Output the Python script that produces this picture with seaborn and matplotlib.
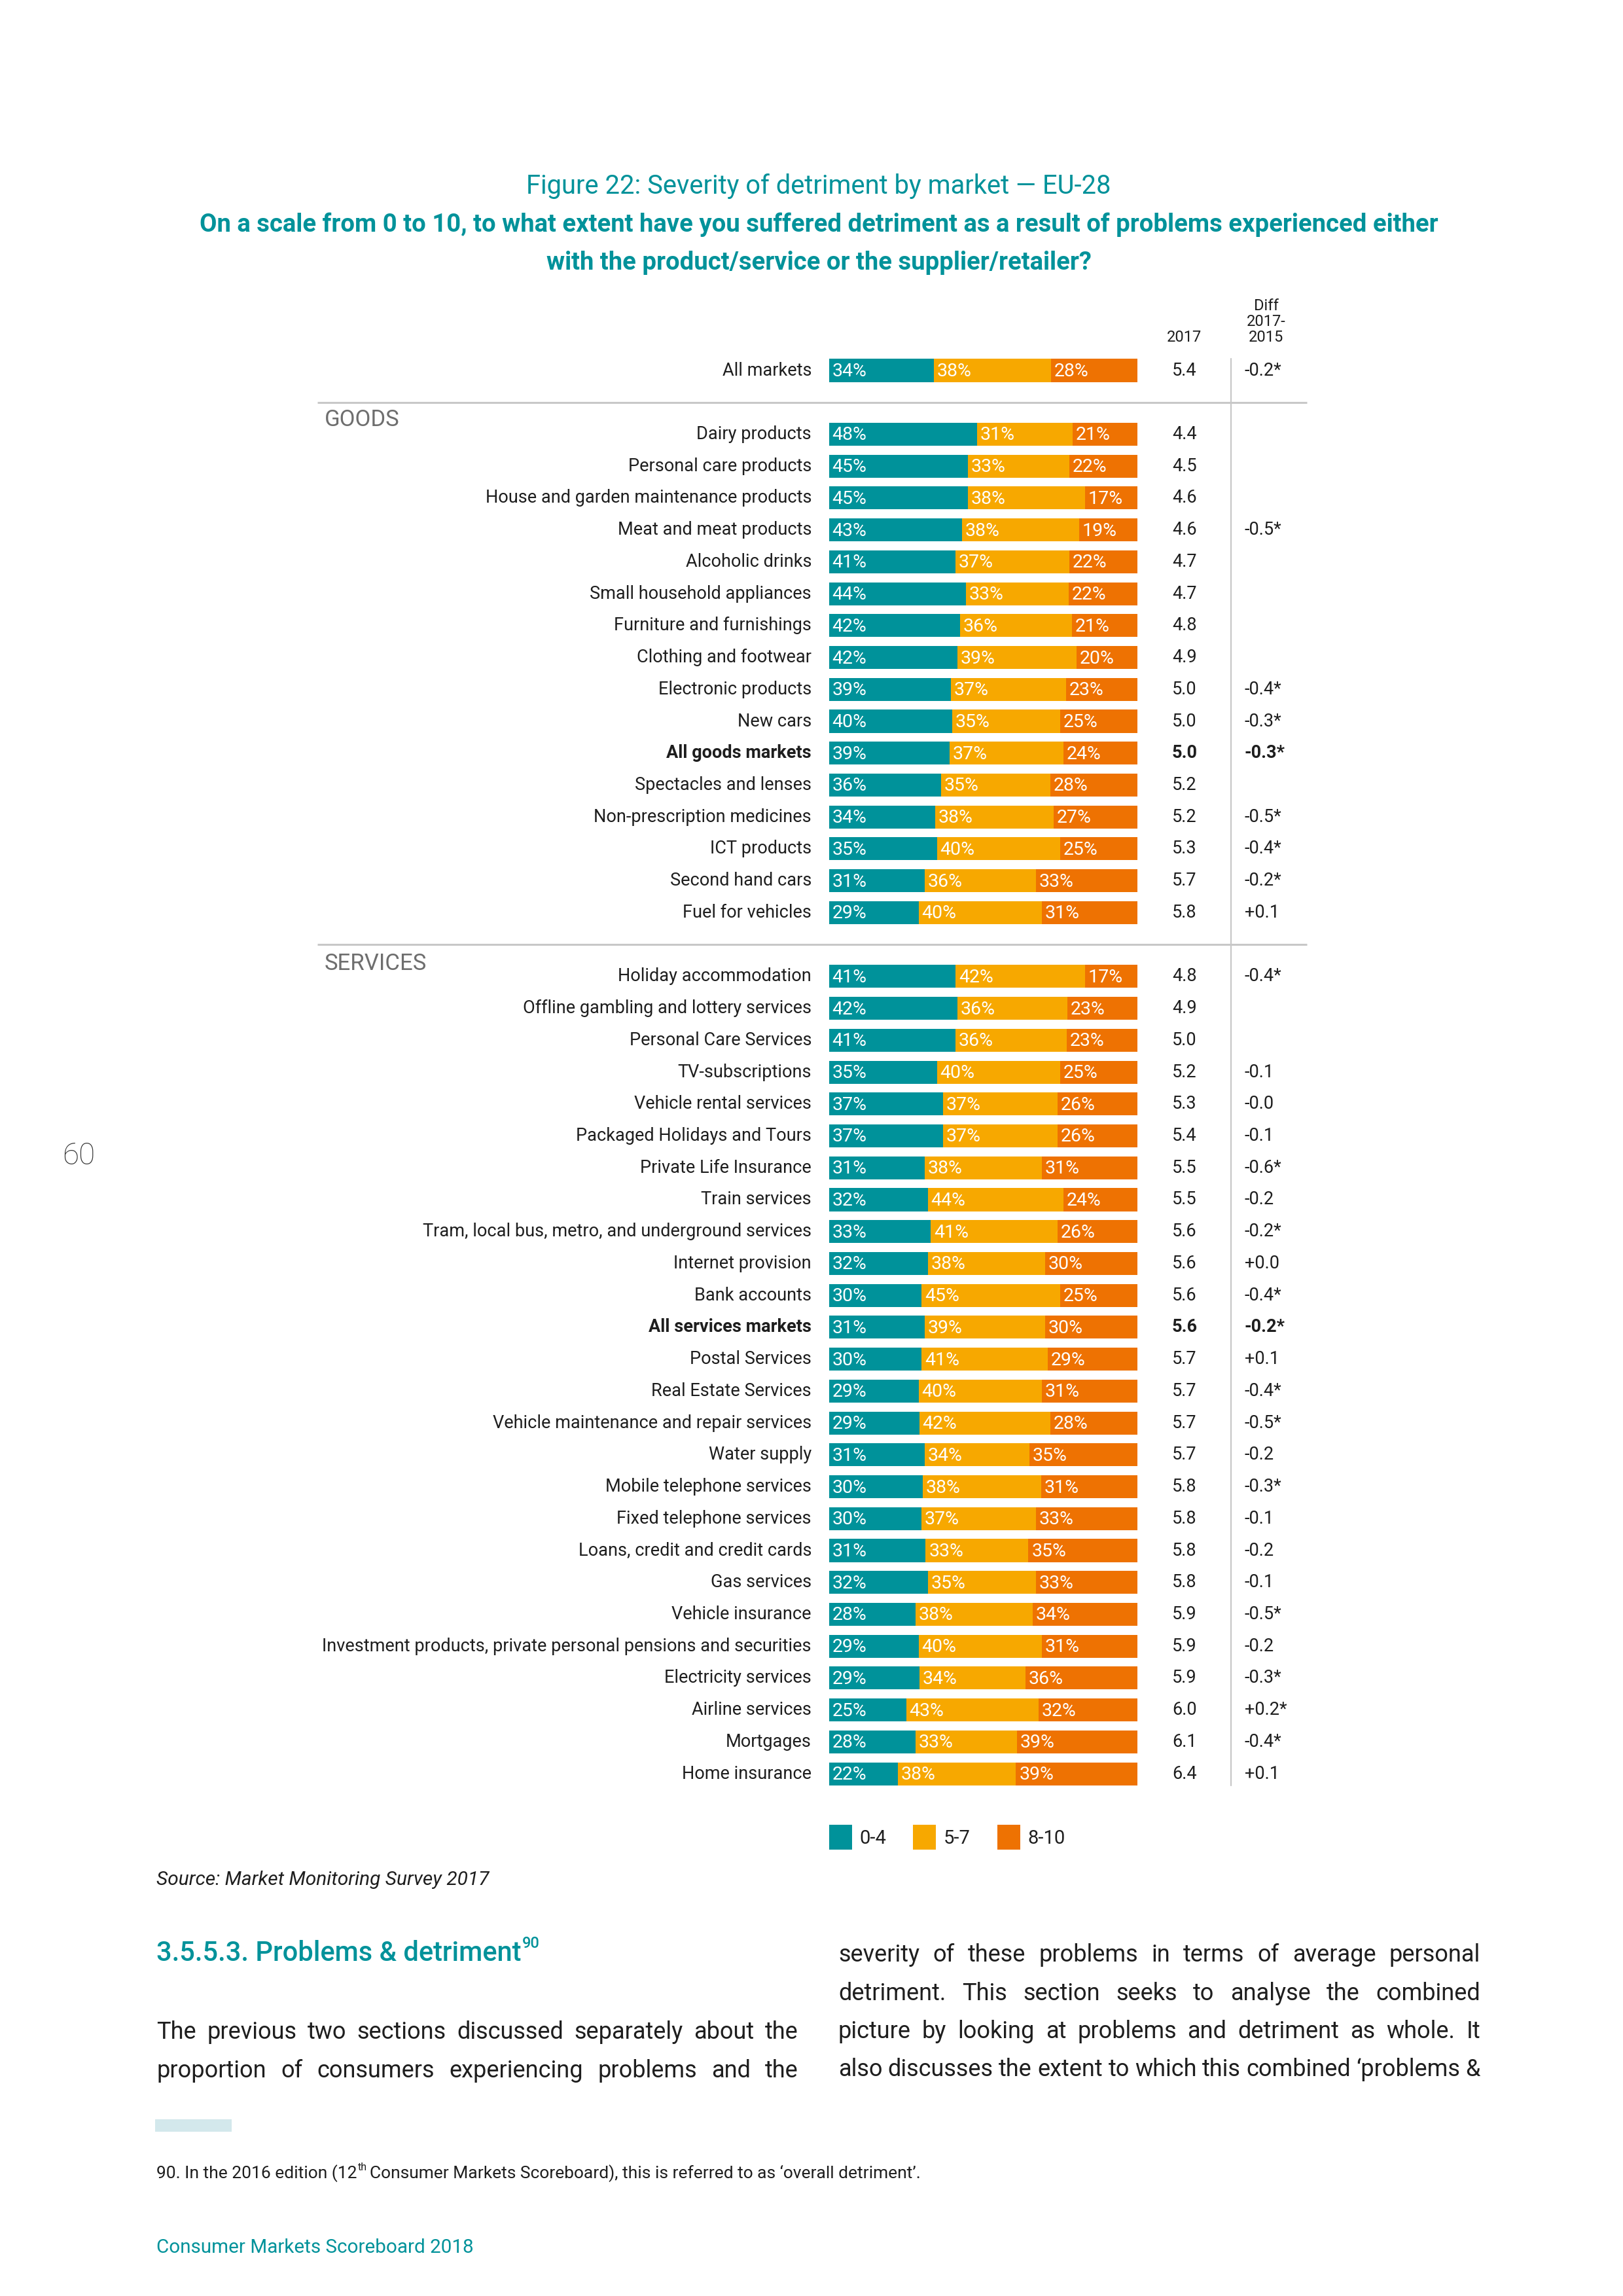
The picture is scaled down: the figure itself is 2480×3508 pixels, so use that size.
import matplotlib
matplotlib.use("Agg")
import matplotlib.pyplot as plt
from matplotlib.patches import Patch, Rectangle
import seaborn as sns
import pandas as pd

# ---------------- data ----------------
overall_market = ["All markets"]
overall_low = [34]
overall_mid = [38]
overall_high = [28]
overall_score = ["5.4"]
overall_diff = ["-0.2*"]

goods_markets = ["Dairy products", "Personal care products", "House and garden maintenance products",
                 "Meat and meat products", "Alcoholic drinks", "Small household appliances",
                 "Furniture and furnishings", "Clothing and footwear", "Electronic products", "New cars",
                 "All goods markets", "Spectacles and lenses", "Non-prescription medicines", "ICT products",
                 "Second hand cars", "Fuel for vehicles"]
goods_low = [48, 45, 45, 43, 41, 44, 42, 42, 39, 40, 39, 36, 34, 35, 31, 29]
goods_mid = [31, 33, 38, 38, 37, 33, 36, 39, 37, 35, 37, 35, 38, 40, 36, 40]
goods_high = [21, 22, 17, 19, 22, 22, 21, 20, 23, 25, 24, 28, 27, 25, 33, 31]
goods_score = ["4.4", "4.5", "4.6", "4.6", "4.7", "4.7", "4.8", "4.9", "5.0", "5.0", "5.0", "5.2", "5.2",
               "5.3", "5.7", "5.8"]
goods_diff = ["", "", "", "-0.5*", "", "", "", "", "-0.4*", "-0.3*", "-0.3*", "", "-0.5*", "-0.4*",
              "-0.2*", "+0.1"]

services_markets = ["Holiday accommodation", "Offline gambling and lottery services", "Personal Care Services",
                    "TV-subscriptions", "Vehicle rental services", "Packaged Holidays and Tours",
                    "Private Life Insurance", "Train services",
                    "Tram, local bus, metro, and underground services", "Internet provision", "Bank accounts",
                    "All services markets", "Postal Services", "Real Estate Services",
                    "Vehicle maintenance and repair services", "Water supply", "Mobile telephone services",
                    "Fixed telephone services", "Loans, credit and credit cards", "Gas services",
                    "Vehicle insurance", "Investment products, private personal pensions and securities",
                    "Electricity services", "Airline services", "Mortgages", "Home insurance"]
services_low = [41, 42, 41, 35, 37, 37, 31, 32, 33, 32, 30, 31, 30, 29, 29, 31, 30, 30, 31, 32, 28, 29, 29,
                25, 28, 22]
services_mid = [42, 36, 36, 40, 37, 37, 38, 44, 41, 38, 45, 39, 41, 40, 42, 34, 38, 37, 33, 35, 38, 40, 34,
                43, 33, 38]
services_high = [17, 23, 23, 25, 26, 26, 31, 24, 26, 30, 25, 30, 29, 31, 28, 35, 31, 33, 35, 33, 34, 31, 36,
                 32, 39, 39]
services_score = ["4.8", "4.9", "5.0", "5.2", "5.3", "5.4", "5.5", "5.5", "5.6", "5.6", "5.6", "5.6", "5.7",
                  "5.7", "5.7", "5.7", "5.8", "5.8", "5.8", "5.8", "5.9", "5.9", "5.9", "6.0", "6.1", "6.4"]
services_diff = ["-0.4*", "", "", "-0.1", "-0.0", "-0.1", "-0.6*", "-0.2", "-0.2*", "+0.0", "-0.4*", "-0.2*",
                 "+0.1", "-0.4*", "-0.5*", "-0.2", "-0.3*", "-0.1", "-0.2", "-0.1", "-0.5*", "-0.2", "-0.3*",
                 "+0.2*", "-0.4*", "+0.1"]

bold_rows = ["All goods markets", "All services markets"]
legend_labels = ["0-4", "5-7", "8-10"]
group_titles = ["GOODS", "SERVICES"]

# ---------------- styles ----------------
TEAL = "#00929A"
YELLOW = "#F7A800"
ORANGE = "#EE7202"
GRID = "#C8C8C8"
TXT = "#1E1E1E"
W, H = 2480, 3508

sns.set_theme(style="white")
plt.rcParams["font.family"] = ["Roboto", "DejaVu Sans"]
plt.rcParams["text.color"] = TXT

# ---------------- table assembly ----------------
rows = []
def add(names, lo, mi, hi, sc, df_, start):
    for i, n in enumerate(names):
        rows.append(dict(market=n, low=lo[i], mid=mi[i], high=hi[i], score=sc[i], diff=df_[i], pos=start + i))

add(overall_market, overall_low, overall_mid, overall_high, overall_score, overall_diff, 0)
add(goods_markets, goods_low, goods_mid, goods_high, goods_score, goods_diff, 2)
add(services_markets, services_low, services_mid, services_high, services_score, services_diff,
    2 + len(goods_markets) + 1)
df = pd.DataFrame(rows)
# shares are shown as rounded labels; bars are drawn as shares of 100%
tot = df["low"] + df["mid"] + df["high"]
df["c1"] = df["low"] / tot * 100
df["c2"] = (df["low"] + df["mid"]) / tot * 100
df["c3"] = tot / tot * 100

fig = plt.figure(figsize=(W / 100, H / 100), dpi=100)
fig.patch.set_facecolor("white")

# axes geometry: bars from 1267px (0%) to 1738px (100%), rows 48.73px apart, first row at 566px
px_per_unit = 4.71
row_h = 48.73
x0_px = 1267
ax_left_px, ax_right_px = 485, 1997
ymin, ymax = -0.5, df["pos"].max() + 0.5
top_px = 566 + ymin * row_h
bot_px = 566 + ymax * row_h
ax = fig.add_axes([ax_left_px / W, 1 - bot_px / H, (ax_right_px - ax_left_px) / W, (bot_px - top_px) / H])

for col, colr in [("c3", ORANGE), ("c2", YELLOW), ("c1", TEAL)]:
    sns.barplot(data=df, x=col, y="pos", orient="h", native_scale=True, color=colr, saturation=1,
                width=0.72, errorbar=None, linewidth=0, ax=ax)

xl = (ax_left_px - x0_px) / px_per_unit
xr = (ax_right_px - x0_px) / px_per_unit
ax.set_xlim(xl, xr)
ax.set_ylim(ymax, ymin)
ax.axis("off")

fs_lab = 19.5
fs_pct = 20.5
lab_x = -27 / px_per_unit
score_x = (1810 - x0_px) / px_per_unit
diff_x = (1902 - x0_px) / px_per_unit
vline_x = (1881 - x0_px) / px_per_unit

for _, r in df.iterrows():
    b = "bold" if r["market"] in bold_rows else "normal"
    ax.text(lab_x, r["pos"], r["market"], ha="right", va="center", fontsize=fs_lab, fontweight=b, color=TXT)
    ax.text(score_x, r["pos"], r["score"], ha="center", va="center", fontsize=fs_lab, fontweight=b, color=TXT)
    if r["diff"]:
        ax.text(diff_x, r["pos"], r["diff"], ha="left", va="center", fontsize=fs_lab, fontweight=b, color=TXT)
    for start, val in [(0, r["low"]), (r["c1"], r["mid"]), (r["c2"], r["high"])]:
        ax.text(start + 1.0, r["pos"] + 0.03, f"{val}%", ha="left", va="center", fontsize=fs_pct,
                color="white")

# separators
sep_goods = 1
sep_services = 2 + len(goods_markets)
for yy in [sep_goods, sep_services]:
    ax.plot([xl, xr], [yy, yy], color=GRID, lw=2.2, solid_capstyle="butt", clip_on=False)
ax.plot([vline_x, vline_x], [-0.37, ymax - 0.13], color=GRID, lw=1.6, clip_on=False)

group_x = (496 - x0_px) / px_per_unit
ax.text(group_x, sep_goods + 0.55, group_titles[0], ha="left", va="center", fontsize=25, color="#6E6E6E")
ax.text(group_x, sep_services + 0.6, group_titles[1], ha="left", va="center", fontsize=25, color="#6E6E6E")

# headers
ax.text(score_x, -1.03, "2017", ha="center", va="center", fontsize=17, color=TXT)
diff_hx = (1935 - x0_px) / px_per_unit
for yy, t in [(-2.03, "Diff"), (-1.53, "2017-"), (-1.03, "2015")]:
    ax.text(diff_hx, yy, t, ha="center", va="center", fontsize=17, color=TXT)

# legend
handles = [Patch(facecolor=c, edgecolor="none") for c in [TEAL, YELLOW, ORANGE]]
fig.legend(handles, legend_labels, loc="center left", bbox_to_anchor=(1267 / W, 1 - 2807 / H), ncol=3,
           frameon=False, fontsize=21, handlelength=1.2, handleheight=1.6, handletextpad=0.4,
           columnspacing=1.4, borderpad=0, borderaxespad=0)

# ---------------- titles and page text ----------------
def fy(p):
    return 1 - p / H

fig.text(1251 / W, fy(284), "Figure 22: Severity of detriment by market \u2014 EU-28", ha="center", va="center",
         fontsize=28.7, color=TEAL, fontweight="normal")
fig.text(1251 / W, fy(343), "On a scale from 0 to 10, to what extent have you suffered detriment as a result of "
         "problems experienced either", ha="center", va="center", fontsize=27.5, color=TEAL, fontweight="bold")
fig.text(1251 / W, fy(401), "with the product/service or the supplier/retailer?", ha="center", va="center",
         fontsize=27.5, color=TEAL, fontweight="bold")

fig.text(239 / W, fy(2872), "Source: Market Monitoring Survey 2017", ha="left", va="center", fontsize=21.5,
         style="italic", color=TXT)

renderer = fig.canvas.get_renderer()

def text_with_sup(x_px, y_px, main, sup, size, sup_size, color, weight="normal", rise=14):
    t = fig.text(x_px / W, fy(y_px), main, ha="left", va="center", fontsize=size, color=color,
                 fontweight=weight)
    bb = t.get_window_extent(renderer)
    fig.text((bb.x1 + 2) / W, fy(y_px - rise), sup, ha="left", va="center", fontsize=sup_size, color=color,
             fontweight=weight)
    return t

text_with_sup(239, 2985, "3.5.5.3. Problems & detriment", "90", 30, 17, TEAL, weight="medium", rise=16)

def justified(words_line, x0, x1, y_px, size=26, color=TXT):
    words = words_line.split(" ")
    ts = [fig.text(0, fy(y_px), w, ha="left", va="center", fontsize=size, color=color) for w in words]
    ws = [t.get_window_extent(renderer).width for t in ts]
    gap = (x1 - x0 - sum(ws)) / max(len(words) - 1, 1)
    x = x0
    for t, w in zip(ts, ws):
        t.set_x(x / W)
        x += w + gap

left_col = ["The previous two sections discussed separately about the",
            "proportion of consumers experiencing problems and the"]
right_col = ["severity of these problems in terms of average personal",
             "detriment. This section seeks to analyse the combined",
             "picture by looking at problems and detriment as whole. It",
             "also discusses the extent to which this combined \u2018problems &"]
for i, line in enumerate(left_col):
    justified(line, 239, 1220, 3105 + i * 58.5)
for i, line in enumerate(right_col):
    justified(line, 1281, 2262, 2987 + i * 58.5)

fig.patches.append(Rectangle((237 / W, fy(3257)), 117 / W, 19 / H, transform=fig.transFigure,
                             facecolor="#D3E8EC", edgecolor="none"))

# footnote with superscript
t1 = fig.text(239 / W, fy(3321), "90. In the 2016 edition (12", ha="left", va="center", fontsize=19, color=TXT)
bb = t1.get_window_extent(renderer)
t2 = fig.text((bb.x1 + 1) / W, fy(3321 - 9), "th", ha="left", va="center", fontsize=11.5, color=TXT)
bb2 = t2.get_window_extent(renderer)
fig.text((bb2.x1 + 4) / W, fy(3321),
         "Consumer Markets Scoreboard), this is referred to as \u2018overall detriment\u2019.",
         ha="left", va="center", fontsize=19, color=TXT)

fig.text(239 / W, fy(3434), "Consumer Markets Scoreboard 2018", ha="left", va="center", fontsize=21.3, color=TEAL)
fig.text(95 / W, fy(1766), "60", ha="left", va="center", fontsize=33, color="#333333", fontweight="light")

fig.savefig("out.png", dpi=100, facecolor="white")
